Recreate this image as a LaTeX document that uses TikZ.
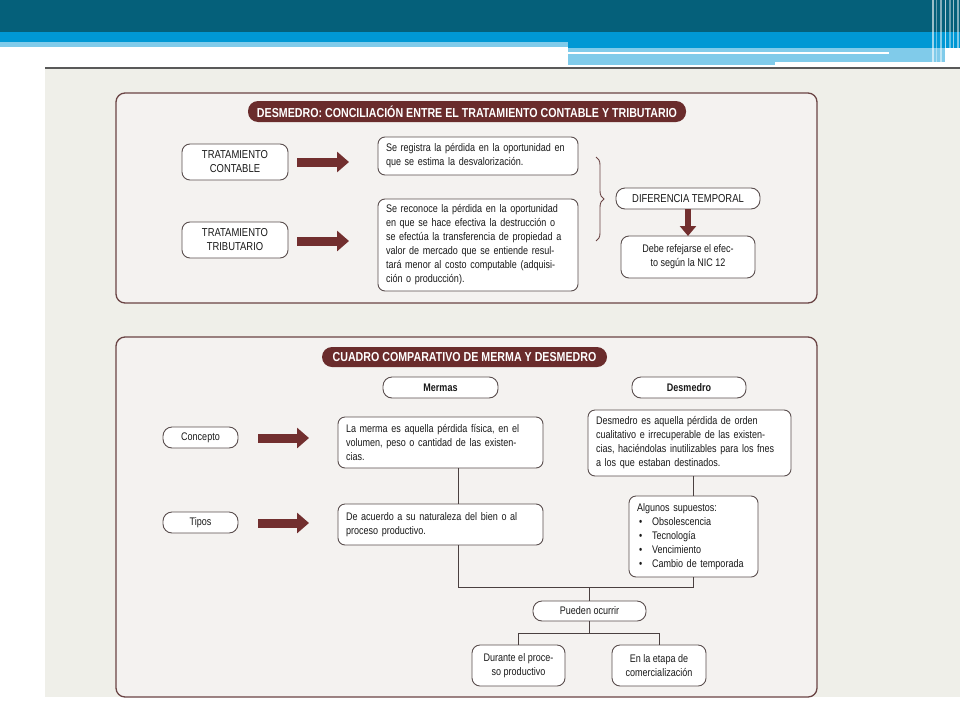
\documentclass[tikz,border=0pt]{standalone}
\usepackage{fontspec}
\setmainfont{Liberation Sans}[FakeStretch=0.82]
\usetikzlibrary{arrows.meta,decorations.pathreplacing}
\definecolor{hdark}{HTML}{05607A}
\definecolor{hblue}{HTML}{0098D4}
\definecolor{hlight}{HTML}{80CBEA}
\definecolor{panelc}{HTML}{EFEFE9}
\definecolor{framec}{HTML}{6A4444}
\definecolor{framefill}{HTML}{F4F2F0}
\definecolor{boxc}{HTML}{5A4E4E}
\definecolor{titlec}{HTML}{6A2C2C}
\definecolor{arrowc}{HTML}{722F2F}
\definecolor{linec}{HTML}{4A4040}
\newcommand{\jl}[2]{\makebox[#1][s]{#2}}
\newcommand{\bodyfont}{\fontsize{11}{14}\selectfont}
\newcommand{\titlefont}{\fontsize{13}{14}\selectfont\bfseries}
\begin{document}
\begin{tikzpicture}[x=1pt,y=-1pt,
  every node/.style={inner sep=0pt, outer sep=0pt},
  frame/.style={draw=framec, fill=framefill, line width=1.3pt, rounded corners=9pt},
  tbox/.style={draw=boxc, fill=white, line width=0.9pt, rounded corners=7pt, font=\bodyfont, text=black!90},
  pillbox/.style={tbox, rounded corners=9pt},
  titlepill/.style={fill=titlec, rounded corners=10pt, text=white, font=\titlefont},
  bigarrow/.style={draw=arrowc, line width=9pt, -{Triangle[length=12pt,width=20pt]}},
  downarrow/.style={draw=arrowc, line width=6pt, -{Triangle[length=10pt,width=16pt]}},
  conn/.style={draw=linec, line width=1pt},
]
\useasboundingbox (0,0) rectangle (960,720);
% header
\fill[hdark] (0,0) rectangle (960,32);
\fill[hblue] (0,32) rectangle (960,42);
\fill[hlight] (0,42) rectangle (568,47);
\fill[hblue] (568,42) rectangle (960,48);
\fill[hlight] (568,48) rectangle (945,65);
\fill[white] (568,51.5) rectangle (889,54);
\fill[white] (775,62) rectangle (945,65);
\foreach \xx/\ww/\op in {932/1.5/0.6, 936/1/0.4, 940/2/0.5, 945/1/0.7, 949/2/0.4, 953/1/0.6, 957/1.5/0.5}
  \fill[white, opacity=\op] (\xx,0) rectangle (\xx+\ww,65);
% panel
\fill[panelc] (45,69) rectangle (960,697);
\draw[line width=1.5pt, color=black!65] (45,68) -- (960,68);

% ===== top frame =====
\node[frame, minimum width=701pt, minimum height=210pt] (f1) at (466.5,198) {};
\node[titlepill, minimum width=438pt, minimum height=21pt] (t1) at (467,111.5)
  {DESMEDRO: CONCILIACIÓN ENTRE EL TRATAMIENTO CONTABLE Y TRIBUTARIO};
\node[tbox, rounded corners=8pt, minimum width=106pt, minimum height=36pt, align=center, font=\fontsize{11.5}{14}\selectfont] (tc) at (235,162) {TRATAMIENTO\\CONTABLE};
\node[tbox, rounded corners=8pt, minimum width=106pt, minimum height=36pt, align=center, font=\fontsize{11.5}{14}\selectfont] (tt) at (235,240) {TRATAMIENTO\\TRIBUTARIO};
\node[tbox, minimum width=200pt, minimum height=38pt, text width=184pt, align=left] (sr) at (478,156)
  {\jl{184pt}{Se registra la pérdida en la oportunidad en}\\que se estima la desvalorización.};
\node[tbox, minimum width=200pt, minimum height=92pt, text width=184pt, align=left] (sc) at (478,245)
  {\jl{184pt}{Se reconoce la pérdida en la oportunidad}\\
   \jl{184pt}{en que se hace efectiva la destrucción o}\\
   \jl{184pt}{se efectúa la transferencia de propiedad a}\\
   \jl{184pt}{valor de mercado que se entiende resul-}\\
   \jl{184pt}{tará menor al costo computable (adquisi-}\\
   ción o producción).};
\coordinate (a1s) at (297,162);
\coordinate (a1e) at (349,162);
\coordinate (a2s) at (297,241);
\coordinate (a2e) at (349,241);
\draw[bigarrow] (a1s) -- (a1e);
\draw[bigarrow] (a2s) -- (a2e);
\coordinate (br1) at (596,157);
\coordinate (br2) at (596,241);
\draw[draw=framec, line width=0.9pt, decorate, decoration={brace, amplitude=8pt}] (br1) -- (br2);
\node[pillbox, minimum width=144pt, minimum height=21pt, font=\fontsize{11.5}{13}\selectfont] (dif) at (688,198.5) {DIFERENCIA TEMPORAL};
\node[tbox, rounded corners=8pt, minimum width=134pt, minimum height=42pt, align=center] (deb) at (688,257) {Debe refejarse el efec-\\to según la NIC 12};
\draw[downarrow] (dif.south) -- (deb.north);

% ===== bottom frame =====
\node[frame, minimum width=701pt, minimum height=360pt] (f2) at (466.5,517) {};
\node[titlepill, minimum width=285pt, minimum height=20pt] (t2) at (464.5,357) {CUADRO COMPARATIVO DE MERMA Y DESMEDRO};
\node[pillbox, minimum width=115pt, minimum height=21pt, font=\bodyfont\bfseries] (mer) at (440.5,387.5) {Mermas};
\node[pillbox, minimum width=114pt, minimum height=21pt, font=\bodyfont\bfseries] (des) at (689,387.5) {Desmedro};
\node[pillbox, minimum width=75pt, minimum height=21pt] (con) at (200.5,437.5) {Concepto};
\node[pillbox, minimum width=75pt, minimum height=21pt] (tip) at (200.5,522.5) {Tipos};
\coordinate (a3s) at (258,438);
\coordinate (a3e) at (309,438);
\coordinate (a4s) at (258,523);
\coordinate (a4e) at (309,523);
\draw[bigarrow] (a3s) -- (a3e);
\draw[bigarrow] (a4s) -- (a4e);
\node[tbox, minimum width=205pt, minimum height=51pt, text width=189pt, align=left] (lm) at (440.5,442.5)
  {\jl{189pt}{La merma es aquella pérdida física, en el}\\
   \jl{189pt}{volumen, peso o cantidad de las existen-}\\
   cias.};
\node[tbox, minimum width=205pt, minimum height=41pt, text width=189pt, align=left] (ac) at (440.5,524.5)
  {\jl{189pt}{De acuerdo a su naturaleza del bien o al}\\
   proceso productivo.\\[10pt]};
\node[tbox, minimum width=203pt, minimum height=66pt, text width=187pt, align=left] (de) at (689.5,443)
  {\jl{187pt}{Desmedro es aquella pérdida de orden}\\
   \jl{187pt}{cualitativo e irrecuperable de las existen-}\\
   \jl{187pt}{cias, haciéndolas inutilizables para los fnes}\\
   a los que estaban destinados.};
\node[tbox, minimum width=129pt, minimum height=81pt, text width=113pt, align=left] (alg) at (693.5,536.5)
  {Algunos supuestos:\\
   \hspace*{2pt}\makebox[13pt][l]{•}Obsolescencia\\
   \hspace*{2pt}\makebox[13pt][l]{•}Tecnología\\
   \hspace*{2pt}\makebox[13pt][l]{•}Vencimiento\\
   \hspace*{2pt}\makebox[13pt][l]{•}Cambio de temporada};
\node[pillbox, minimum width=113pt, minimum height=20pt] (pu) at (589.5,611) {Pueden ocurrir};
\node[tbox, rounded corners=8pt, minimum width=93pt, minimum height=41pt, align=center] (dur) at (518.5,665.5) {Durante el proce-\\so productivo};
\node[tbox, rounded corners=8pt, minimum width=94pt, minimum height=41pt, align=center] (etp) at (659,665.5) {En la etapa de\\comercialización};
% connectors
\coordinate (mx) at (458,0);
\draw[conn] (lm.south -| mx) -- (ac.north -| mx);
\draw[conn] (alg.north) -- (alg.north |- de.south);
\draw[conn] (ac.south -| mx) -- ++(0,42) -| (alg.south);
\draw[conn] (pu.north) -- ++(0,-14);
\draw[conn] (pu.south) -- ++(0,12) coordinate (j2);
\draw[conn] (dur.north) |- (j2) -| (etp.north);
\end{tikzpicture}
\end{document}
